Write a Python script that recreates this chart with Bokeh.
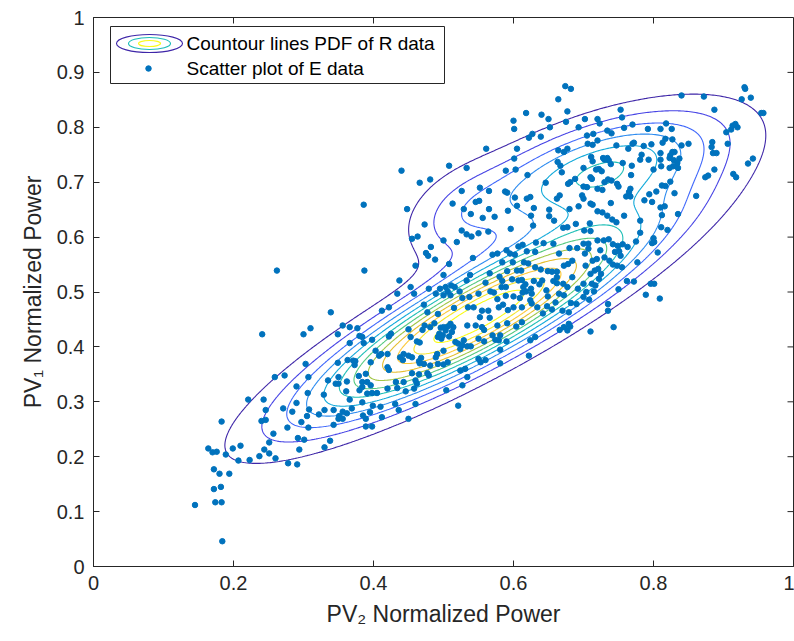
import numpy as np
from bokeh.plotting import figure
from bokeh.models import FixedTicker, Label, Range1d
from bokeh.embed import file_html
from bokeh.resources import INLINE

# ---------------- data: scatter of E data ----------------
e_x = [
0.241,0.300,0.310,0.356,0.366,0.377,0.349,0.380,0.366,0.303,0.307,0.273,0.259,0.290,0.306,0.329,0.335,0.349,0.363,0.371,
0.374,0.373,0.379,0.380,0.362,0.361,0.366,0.350,0.346,0.350,0.221,0.243,0.246,0.271,0.284,0.290,0.308,0.322,0.330,0.343,
0.356,0.362,0.369,0.351,0.350,0.356,0.305,0.297,0.277,0.307,0.343,0.183,0.240,0.246,0.257,0.292,0.301,0.338,0.330,0.294,
0.164,0.170,0.176,0.189,0.199,0.210,0.244,0.251,0.237,0.223,0.207,0.260,0.278,0.291,0.251,0.172,0.180,0.194,0.182,0.172,
0.174,0.183,0.145,0.184,0.262,0.339,
0.674,0.682,0.664,0.618,0.640,0.677,0.650,0.600,0.601,0.675,0.693,0.627,0.622,0.639,0.652,0.561,0.605,0.508,0.533,0.440,
0.481,0.466,0.601,0.589,0.603,0.620,0.664,0.677,0.672,0.663,0.667,0.669,0.646,0.678,0.681,0.688,0.552,0.565,0.526,0.588,
0.591,0.602,0.619,0.624,0.666,0.662,0.513,0.546,0.551,0.448,0.473,0.529,0.539,0.556,0.565,0.573,0.605,0.592,0.629,0.651,
0.651,0.658,0.680,0.693,0.625,0.628,0.596,0.671,0.677,0.689,0.526,0.533,0.540,0.550,0.564,0.463,0.455,0.500,0.519,0.482,
0.475,0.478,0.460,0.488,0.508,0.542,0.387,0.386,0.437,0.453,0.434,0.458,0.479,0.500,0.495,0.503,0.506,0.511,0.516,0.489,
0.500,0.510,0.523,0.527,0.472,0.412,0.422,0.477,0.492,0.515,0.535,0.543,0.555,0.564,0.552,0.566,0.579,0.585,0.538,0.566,
0.580,0.591,0.598,0.611,0.605,0.599,0.595,0.590,0.602,0.607,0.613,0.619,0.631,0.632,0.643,0.657,0.665,0.680,0.691,0.684,
0.678,0.672,0.655,0.649,0.662,0.662,0.662,0.657,0.671,0.684,0.677,0.692,0.607,0.612,0.617,0.614,0.618,0.625,0.629,0.626,
0.624,0.613,0.609,0.600,0.589,0.583,0.589,0.572,0.577,0.592,0.600,0.612,0.626,0.634,0.642,0.648,0.655,0.660,0.670,0.679,
0.682,0.690,0.672,0.665,0.647,0.649,0.637,0.641,0.639,0.631,0.621,0.615,0.570,0.577,0.584,0.584,0.560,0.533,0.537,0.550,
0.567,
0.930,0.931,0.926,0.939,0.954,0.957,0.840,0.872,0.887,0.753,0.755,0.702,0.720,0.723,0.714,0.705,0.734,0.740,0.770,0.758,
0.792,0.810,0.818,0.826,0.706,0.713,0.720,0.747,0.764,0.770,0.772,0.786,0.797,0.813,0.817,0.827,0.840,0.850,0.810,0.827,
0.824,0.830,0.823,0.829,0.837,0.834,0.828,0.835,0.823,0.811,0.810,0.783,0.781,0.793,0.800,0.769,0.768,0.756,0.711,0.713,
0.728,0.734,0.736,0.730,0.739,0.726,0.722,0.718,0.700,0.710,0.712,0.735,0.740,0.730,0.727,0.720,0.705,0.700,0.748,0.750,
0.700,0.698,0.767,0.765,0.761,0.767,0.794,0.787,0.798,0.804,0.812,0.817,0.824,0.830,0.810,0.816,0.812,0.710,0.713,0.739,
0.720,0.727,0.734,0.741,0.758,0.747,0.781,0.811,0.820,0.835,0.861,0.874,0.878,0.887,0.914,0.918,0.935,0.942,0.884,0.883,
0.885,0.890,0.906,0.904,0.911,0.917,0.920,0.913,0.709,0.701,0.710,0.700,0.707,0.720,0.729,0.736,0.742,0.749,0.756,0.702,
0.707,0.713,0.724,0.730,0.719,0.737,0.745,0.751,0.753,0.742,0.748,0.755,0.763,0.775,0.781,0.777,0.798,0.801,0.800,0.806,
0.721,0.716,0.703,0.710,0.722,0.725,0.700,0.712,0.704,0.717,0.715,0.700,0.708,0.750,0.762,0.772,0.796,0.801,0.789,0.809,
0.735,0.735,
0.487,0.496,0.500,0.506,0.510,0.514,0.512,0.503,0.499,0.494,0.492,0.497,0.508,0.473,0.481,0.470,0.462,0.466,0.453,0.450,
0.425,0.422,0.398,0.386,0.384,0.403,0.408,0.411,0.420,0.443,0.450,0.455,0.442,0.438,0.468,0.465,0.472,0.466,0.491,0.489,
0.500,0.506,0.500,0.492,0.481,0.477,0.465,0.455,0.420,0.422,0.396,0.389,0.391,0.396,0.384,0.384,0.398,0.405,0.391,0.420,
0.432,0.443,0.434,0.446,0.458,0.462,0.460,0.479,0.399,0.410,0.395,0.412,0.384,0.385,0.389,0.389,0.398,0.431,0.436,0.460,
0.450,0.504,0.524,0.531,0.534,0.527,0.521,0.517,0.521,0.527,0.534,0.539,0.524,0.529,0.534,0.546,0.555,0.558,0.550,0.558,
0.570,0.577,0.581,0.579,0.590,0.574,0.581,0.581,0.553,0.550,0.560,0.591,0.604,0.612,0.624,0.631,0.622,0.666,0.672,0.679,
0.681,0.677,0.710,0.743,
]
e_y = [
0.423,0.423,0.434,0.439,0.436,0.434,0.423,0.420,0.407,0.369,0.345,0.348,0.345,0.328,0.316,0.313,0.339,0.371,0.376,0.375,
0.374,0.367,0.347,0.321,0.337,0.319,0.304,0.333,0.333,0.345,0.304,0.304,0.285,0.288,0.282,0.298,0.286,0.277,0.285,0.285,
0.282,0.279,0.288,0.274,0.269,0.269,0.274,0.263,0.253,0.253,0.258,0.264,0.265,0.267,0.242,0.234,0.231,0.229,0.217,0.213,
0.215,0.208,0.209,0.204,0.215,0.220,0.213,0.206,0.201,0.194,0.193,0.197,0.188,0.186,0.226,0.177,0.169,0.169,0.145,0.141,
0.117,0.117,0.112,0.046,0.539,0.463,
0.875,0.870,0.851,0.826,0.823,0.829,0.815,0.812,0.797,0.810,0.800,0.788,0.781,0.783,0.800,0.761,0.761,0.730,0.726,0.721,
0.705,0.699,0.743,0.721,0.723,0.713,0.758,0.761,0.755,0.737,0.730,0.718,0.699,0.697,0.700,0.706,0.690,0.684,0.684,0.683,
0.681,0.672,0.670,0.673,0.676,0.670,0.661,0.664,0.666,0.651,0.623,0.651,0.642,0.635,0.651,0.637,0.657,0.648,0.653,0.650,
0.638,0.630,0.651,0.656,0.639,0.621,0.615,0.617,0.618,0.624,0.612,0.605,0.601,0.607,0.610,0.601,0.597,0.594,0.591,0.582,
0.571,0.566,0.548,0.559,0.551,0.562,0.539,0.659,0.521,0.509,0.497,0.497,0.506,0.531,0.506,0.509,0.501,0.512,0.509,0.497,
0.494,0.494,0.501,0.489,0.477,0.466,0.472,0.463,0.460,0.471,0.472,0.472,0.466,0.466,0.454,0.453,0.472,0.477,0.531,0.534,
0.528,0.538,0.523,0.539,0.539,0.554,0.570,0.576,0.568,0.583,0.586,0.574,0.573,0.590,0.589,0.588,0.570,0.580,0.580,0.557,
0.551,0.548,0.537,0.538,0.537,0.527,0.516,0.520,0.515,0.527,0.509,0.506,0.521,0.522,0.514,0.509,0.501,0.506,0.520,0.497,
0.485,0.499,0.489,0.492,0.509,0.509,0.493,0.499,0.487,0.467,0.472,0.472,0.479,0.472,0.461,0.474,0.468,0.481,0.466,0.463,
0.480,0.478,0.494,0.497,0.503,0.492,0.514,0.521,0.541,0.545,0.552,0.554,0.568,0.570,0.554,0.520,0.517,0.521,0.491,0.497,
0.501,
0.873,0.870,0.851,0.854,0.826,0.826,0.858,0.856,0.832,0.832,0.818,0.815,0.815,0.807,0.788,0.785,0.794,0.789,0.805,0.799,
0.797,0.797,0.807,0.797,0.770,0.768,0.776,0.767,0.761,0.770,0.772,0.766,0.769,0.772,0.779,0.778,0.767,0.770,0.753,0.755,
0.749,0.755,0.744,0.740,0.743,0.735,0.729,0.726,0.726,0.729,0.741,0.750,0.741,0.741,0.723,0.730,0.713,0.735,0.746,0.738,
0.744,0.744,0.740,0.741,0.733,0.720,0.724,0.723,0.726,0.709,0.706,0.705,0.703,0.700,0.686,0.688,0.691,0.692,0.697,0.692,
0.670,0.676,0.688,0.682,0.674,0.674,0.678,0.667,0.664,0.683,0.694,0.693,0.701,0.680,0.654,0.656,0.640,0.661,0.659,0.662,
0.647,0.645,0.639,0.632,0.639,0.627,0.630,0.618,0.613,0.642,0.675,0.709,0.712,0.723,0.715,0.709,0.734,0.743,0.773,0.764,
0.753,0.753,0.770,0.791,0.796,0.806,0.800,0.803,0.625,0.612,0.611,0.588,0.588,0.594,0.594,0.596,0.587,0.584,0.587,0.570,
0.579,0.557,0.576,0.563,0.560,0.557,0.573,0.574,0.566,0.550,0.548,0.545,0.582,0.592,0.608,0.554,0.589,0.591,0.598,0.572,
0.542,0.539,0.548,0.533,0.524,0.533,0.515,0.515,0.500,0.512,0.501,0.491,0.486,0.505,0.520,0.519,0.515,0.515,0.495,0.488,
0.478,0.466,
0.443,0.435,0.436,0.437,0.442,0.436,0.427,0.430,0.421,0.424,0.418,0.415,0.419,0.439,0.436,0.431,0.410,0.408,0.418,0.432,
0.424,0.419,0.413,0.407,0.418,0.393,0.384,0.387,0.387,0.387,0.384,0.381,0.376,0.381,0.380,0.374,0.369,0.370,0.387,0.381,
0.393,0.372,0.368,0.369,0.366,0.352,0.350,0.352,0.363,0.358,0.372,0.351,0.336,0.330,0.336,0.327,0.316,0.316,0.315,0.324,
0.336,0.336,0.325,0.319,0.324,0.333,0.339,0.348,0.293,0.291,0.281,0.272,0.299,0.275,0.269,0.255,0.255,0.296,0.285,0.296,
0.269,0.321,0.357,0.360,0.345,0.330,0.293,0.409,0.406,0.403,0.401,0.401,0.396,0.412,0.439,0.439,0.436,0.431,0.415,0.410,
0.421,0.439,0.421,0.412,0.410,0.413,0.395,0.370,0.372,0.378,0.376,0.443,0.437,0.445,0.412,0.418,0.384,0.431,0.436,0.442,
0.437,0.430,0.428,0.436,
]

# ---------------- PDF of R data: Gaussian-mixture parameters ----------------
pdf_weight = [0.66, 0.24, 0.022]
pdf_mean_x = [0.55, 0.72, 0.52]
pdf_mean_y = [0.455, 0.72, 0.635]
pdf_sd_x = [0.160, 0.120, 0.050]
pdf_sd_y = [0.118, 0.074, 0.060]
pdf_rho = [0.877, 0.60, 0.30]
level_fractions = [1/13, 2/13, 3/13, 4/13, 5/13, 6/13, 7/13, 8/13, 9/13, 10/13, 11/13, 12/13]

x_ticks = [0, 0.2, 0.4, 0.6, 0.8, 1]
x_tick_labels = ["0", "0.2", "0.4", "0.6", "0.8", "1"]
y_ticks = [0, 0.1, 0.2, 0.3, 0.4, 0.5, 0.6, 0.7, 0.8, 0.9, 1]
y_tick_labels = ["0", "0.1", "0.2", "0.3", "0.4", "0.5", "0.6", "0.7", "0.8", "0.9", "1"]

legend_labels = ["Countour lines PDF of R data", "Scatter plot of E data"]

# parula colormap anchors
PARULA = [
    (0.2422, 0.1504, 0.6603), (0.2803, 0.2782, 0.9221), (0.2440, 0.4358, 0.9988),
    (0.1540, 0.5902, 0.9218), (0.0297, 0.7082, 0.8163), (0.1938, 0.7758, 0.6251),
    (0.5044, 0.7993, 0.3480), (0.8634, 0.7406, 0.1596), (0.9892, 0.7600, 0.2300),
    (0.9598, 0.8834, 0.1637), (0.9769, 0.9839, 0.0805),
]


def parula(t):
    t = min(max(t, 0.0), 1.0) * (len(PARULA) - 1)
    i = min(int(t), len(PARULA) - 2)
    f = t - i
    c = [PARULA[i][k] * (1 - f) + PARULA[i + 1][k] * f for k in range(3)]
    return "#%02x%02x%02x" % tuple(int(round(v * 255)) for v in c)


def gauss2(X, Y, mx, my, sx, sy, r):
    dx = (X - mx) / sx
    dy = (Y - my) / sy
    q = (dx * dx - 2 * r * dx * dy + dy * dy) / (1 - r * r)
    return np.exp(-q / 2) / (2 * np.pi * sx * sy * np.sqrt(1 - r * r))


gx = np.linspace(0, 1, 401)
gy = np.linspace(0, 1, 401)
GX, GY = np.meshgrid(gx, gy)
Z = np.zeros_like(GX)
for w, mx, my, sx_, sy_, r in zip(pdf_weight, pdf_mean_x, pdf_mean_y, pdf_sd_x, pdf_sd_y, pdf_rho):
    Z += w * gauss2(GX, GY, mx, my, sx_, sy_, r)
zmax = float(Z.max())
levels = [f * zmax for f in level_fractions]
n_lev = len(levels)
level_colors = [parula(k / (n_lev - 1)) for k in range(n_lev)]

# ---------------- figure ----------------
FONT = "Liberation Sans"
AX = "#262626"

p = figure(frame_width=700, frame_height=549, output_backend="svg", toolbar_location=None,
           x_range=Range1d(0, 1), y_range=Range1d(0, 1),
           min_border_left=93, min_border_right=1, min_border_top=17, min_border_bottom=75)
p.background_fill_color = "white"
p.border_fill_color = "white"
p.outline_line_color = AX
p.outline_line_width = 1
p.xgrid.visible = False
p.ygrid.visible = False

p.contour(gx, gy, Z, levels, line_color=level_colors, line_width=1.1)

# tick marks on the top and right edges of the box (MATLAB "box on")
TICK_PX = 6
p.segment(x0=x_ticks, y0=[1] * len(x_ticks), x1=x_ticks, y1=[1 - TICK_PX / 549.0] * len(x_ticks),
          line_color=AX, line_width=1)
p.segment(x0=[1] * len(y_ticks), y0=y_ticks, x1=[1 - TICK_PX / 700.0] * len(y_ticks), y1=y_ticks,
          line_color=AX, line_width=1)


# legend (drawn in data space so that the nested-ellipse icon can be shown)
def sx(px):
    return (px - 93) / 700.0


def sy(py):
    return (566 - py) / 549.0


p.quad(left=sx(110), right=sx(444), top=sy(26), bottom=sy(83),
       fill_color="white", line_color=AX, line_width=1)
icon_w = [66, 42, 22]
icon_h = [18, 12, 6]
icon_c = [parula(0.0), parula(0.45), parula(1.0)]
for w, h, c in zip(icon_w, icon_h, icon_c):
    p.ellipse(x=[sx(149)], y=[sy(43)], width=w / 700.0, height=h / 549.0,
              fill_color=None, line_color=c, line_width=1.1)
p.scatter(x=[sx(148)], y=[sy(68)], size=5.5, fill_color="#0072BD", line_color="#0072BD")
for lab, py in zip(legend_labels, [43, 68]):
    p.add_layout(Label(x=sx(186), y=sy(py), text=lab, text_font=FONT, text_font_size="19px",
                       text_baseline="middle", text_color="black"))

p.scatter(e_x, e_y, size=5.5, fill_color="#0072BD", line_color="#0072BD")

# axes
for ax, ticks, labels in ((p.xaxis[0], x_ticks, x_tick_labels), (p.yaxis[0], y_ticks, y_tick_labels)):
    ax.ticker = FixedTicker(ticks=ticks)
    ax.major_label_overrides = {t: l for t, l in zip(ticks, labels)}
    ax.major_tick_in = TICK_PX
    ax.major_tick_out = 0
    ax.minor_tick_line_color = None
    ax.axis_line_color = AX
    ax.major_tick_line_color = AX
    ax.major_label_text_font = FONT
    ax.major_label_text_font_size = "20px"
    ax.major_label_text_color = AX
    ax.major_label_standoff = 9
    ax.axis_label_text_font = FONT
    ax.axis_label_text_font_size = "23px"
    ax.axis_label_text_font_style = "normal"
    ax.axis_label_text_color = AX

p.xaxis.axis_label = "PV\u2082 Normalized Power"
p.yaxis.axis_label = "PV\u2081 Normalized Power"
p.xaxis.axis_label_standoff = 8
p.yaxis.axis_label_standoff = 8

open("out.html", "w").write(file_html(p, INLINE, title="PV contour"))
